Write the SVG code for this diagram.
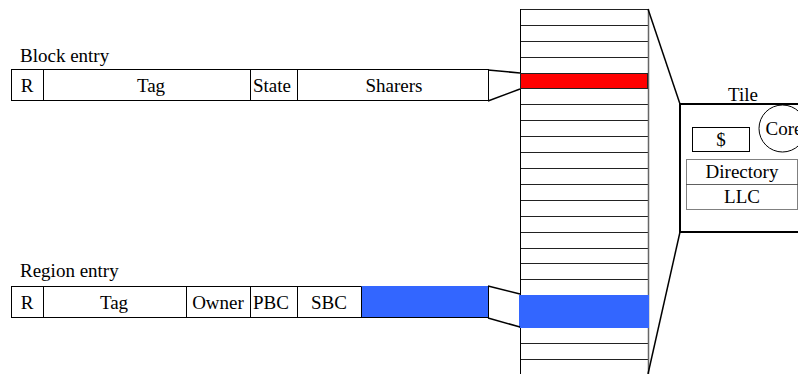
<svg xmlns="http://www.w3.org/2000/svg" width="798" height="374" viewBox="0 0 798 374">
<style>
text{font-family:"Liberation Serif","Times New Roman",serif;font-size:19px;fill:#000}
.c{text-anchor:middle}
.box{fill:#fff;stroke:#000;stroke-width:1}
.ln{stroke:#000;stroke-width:1;fill:none}
.rl{stroke:#222;stroke-width:1}
.con{stroke:#000;stroke-width:1.5;fill:none}
.dot{fill:#fff;stroke:#000;stroke-width:1;stroke-dasharray:1 1}
</style>
<rect width="798" height="374" fill="#fff"/>

<g id="block-entry">
<text x="20" y="62">Block entry</text>
<rect class="box" x="11.5" y="69.5" width="477" height="31"/>
<line class="ln" x1="43.5" y1="69.5" x2="43.5" y2="100.5"/>
<line class="ln" x1="250.5" y1="69.5" x2="250.5" y2="100.5"/>
<line class="ln" x1="297.5" y1="69.5" x2="297.5" y2="100.5"/>
<text class="c" x="27" y="92">R</text>
<text class="c" x="151" y="92">Tag</text>
<text class="c" x="272" y="92">State</text>
<text class="c" x="394" y="92">Sharers</text>
</g>

<g id="region-entry">
<text x="20" y="277">Region entry</text>
<rect class="box" x="11.5" y="286.5" width="477" height="31"/>
<rect x="361" y="286" width="127" height="31" fill="#3366ff"/>
<line class="ln" x1="43.5" y1="286.5" x2="43.5" y2="317.5"/>
<line class="ln" x1="186.5" y1="286.5" x2="186.5" y2="317.5"/>
<line class="ln" x1="250.5" y1="286.5" x2="250.5" y2="317.5"/>
<line class="ln" x1="297.5" y1="286.5" x2="297.5" y2="317.5"/>
<line class="ln" x1="361.5" y1="286.5" x2="361.5" y2="317.5"/>
<text class="c" x="27" y="309">R</text>
<text class="c" x="114" y="309">Tag</text>
<text class="c" x="218" y="309">Owner</text>
<text class="c" x="271" y="309">PBC</text>
<text class="c" x="329" y="309">SBC</text>
</g>

<g id="directory-array">
<rect x="520" y="9" width="128" height="370" fill="#fff"/>
<g class="rl">
<line x1="520" y1="9.5" x2="648" y2="9.5"/>
<line x1="520" y1="25.5" x2="648" y2="25.5"/>
<line x1="520" y1="41.5" x2="648" y2="41.5"/>
<line x1="520" y1="57.5" x2="648" y2="57.5"/>
<line x1="520" y1="104.5" x2="648" y2="104.5"/>
<line x1="520" y1="120.5" x2="648" y2="120.5"/>
<line x1="520" y1="136.5" x2="648" y2="136.5"/>
<line x1="520" y1="152.5" x2="648" y2="152.5"/>
<line x1="520" y1="168.5" x2="648" y2="168.5"/>
<line x1="520" y1="184.5" x2="648" y2="184.5"/>
<line x1="520" y1="200.5" x2="648" y2="200.5"/>
<line x1="520" y1="216.5" x2="648" y2="216.5"/>
<line x1="520" y1="232.5" x2="648" y2="232.5"/>
<line x1="520" y1="248.5" x2="648" y2="248.5"/>
<line x1="520" y1="263.5" x2="648" y2="263.5"/>
<line x1="520" y1="279.5" x2="648" y2="279.5"/>
<line x1="520" y1="343.5" x2="648" y2="343.5"/>
<line x1="520" y1="359.5" x2="648" y2="359.5"/>
</g>
<line x1="520.5" y1="9" x2="520.5" y2="374" stroke="#000" stroke-width="1"/>
<line x1="648.5" y1="9" x2="648.5" y2="374" stroke="#666" stroke-width="1.5"/>
<rect x="520.5" y="73.5" width="127" height="15" fill="#ff0000" stroke="#222" stroke-width="1"/>
<rect x="519" y="295" width="130" height="33" fill="#3366ff"/>
</g>

<g id="tile">
<text class="c" x="743" y="101">Tile</text>
<rect x="680" y="104" width="130" height="128" fill="#fff" stroke="#000" stroke-width="2"/>
<rect class="box" x="692.5" y="127.5" width="57" height="24"/>
<text class="c" x="721" y="146">$</text>
<circle cx="782.5" cy="128.5" r="23.5" fill="#fff" stroke="#000" stroke-width="1"/>
<text class="c" x="784" y="135">Core</text>
<rect class="dot" x="686.5" y="159.5" width="111" height="25"/>
<text class="c" x="742" y="178">Directory</text>
<rect class="dot" x="686.5" y="184.5" width="111" height="25"/>
<text class="c" x="742" y="203">LLC</text>
</g>

<g id="connectors">
<polyline class="con" points="488,70 520,73"/>
<polyline class="con" points="488,101 520,89"/>
<polyline class="con" points="488,286 520,294"/>
<polyline class="con" points="488,318 520,327"/>
<polyline class="con" points="648,9 680,104"/>
<polyline class="con" points="680,232 648,374"/>
</g>
</svg>
